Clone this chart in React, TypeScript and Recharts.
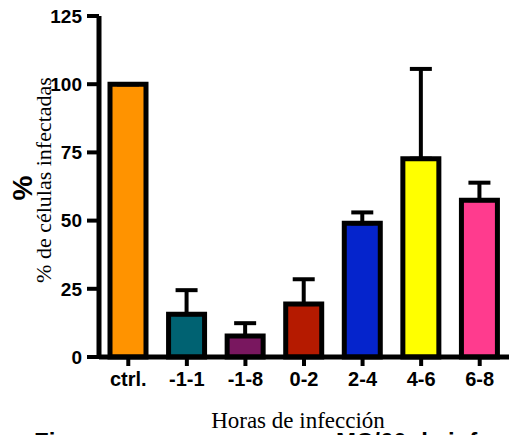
import { Bar, BarChart, Cell, ErrorBar, XAxis, YAxis } from "recharts";

const categories = ["ctrl.", "-1-1", "-1-8", "0-2", "2-4", "4-6", "6-8"];
const means = [100, 15.7, 7.7, 19.4, 49, 72.7, 57.5];
const sem = [0, 8.8, 4.7, 9.1, 4, 32.9, 6.4];
const colors = ["#FF9300", "#006272", "#79175F", "#B51A00", "#0524CC", "#FFFF00", "#FF3B8E"];
const yTicks = [0, 25, 50, 75, 100, 125];

const data = categories.map((c, i) => ({
  name: c,
  value: means[i],
  err: [0, sem[i]],
}));

const sans = "'Liberation Sans', Arial, sans-serif";
const serif = "'Liberation Serif', 'Times New Roman', serif";

export default function App() {
  return (
    <div style={{ position: "absolute", left: 0, top: 0, width: 509, height: 435, background: "#fff" }}>
      <BarChart
        width={509}
        height={435}
        data={data}
        margin={{ top: 16, right: 0, bottom: 38, left: 0 }}
        barCategoryGap={0}
      >
        <XAxis
          dataKey="name"
          height={40}
          axisLine={{ stroke: "#000", strokeWidth: 5 }}
          tickLine={{ stroke: "#000", strokeWidth: 4 }}
          tickSize={9}
          tickMargin={6}
          interval={0}
          tick={{ fontSize: 20, fontWeight: "bold", fill: "#000", fontFamily: sans }}
        />
        <YAxis
          width={99}
          domain={[0, 125]}
          ticks={yTicks}
          axisLine={{ stroke: "#000", strokeWidth: 5 }}
          tickLine={{ stroke: "#000", strokeWidth: 4 }}
          tickSize={12}
          tickMargin={5}
          tick={{ fontSize: 19, fontWeight: "bold", fill: "#000", fontFamily: sans }}
        />
        <Bar dataKey="value" barSize={36} stroke="#000" strokeWidth={5} isAnimationActive={false}>
          {data.map((d, i) => (
            <Cell key={d.name} fill={colors[i]} />
          ))}
          <ErrorBar dataKey="err" direction="y" width={11} stroke="#000" strokeWidth={4} isAnimationActive={false} />
        </Bar>
      </BarChart>
      <svg
        width={509}
        height={435}
        style={{ position: "absolute", left: 0, top: 0, pointerEvents: "none" }}
      >
        <text
          transform="translate(32,188) rotate(-90)"
          textAnchor="middle"
          fontFamily={sans}
          fontWeight="bold"
          fontSize={28}
        >
          %
        </text>
        <text
          transform="translate(51,180) rotate(-90)"
          textAnchor="middle"
          fontFamily={serif}
          fontSize={22}
        >
          % de células infectadas
        </text>
        <text x={298} y={428} textAnchor="middle" fontFamily={serif} fontSize={23}>
          Horas de infección
        </text>
        <text x={34} y={450} fontFamily={sans} fontWeight="bold" fontSize={24}>
          Fi
        </text>
        <text x={336} y={450} fontFamily={sans} fontWeight="bold" fontSize={24}>
          MC/60 de inf
        </text>
      </svg>
    </div>
  );
}
